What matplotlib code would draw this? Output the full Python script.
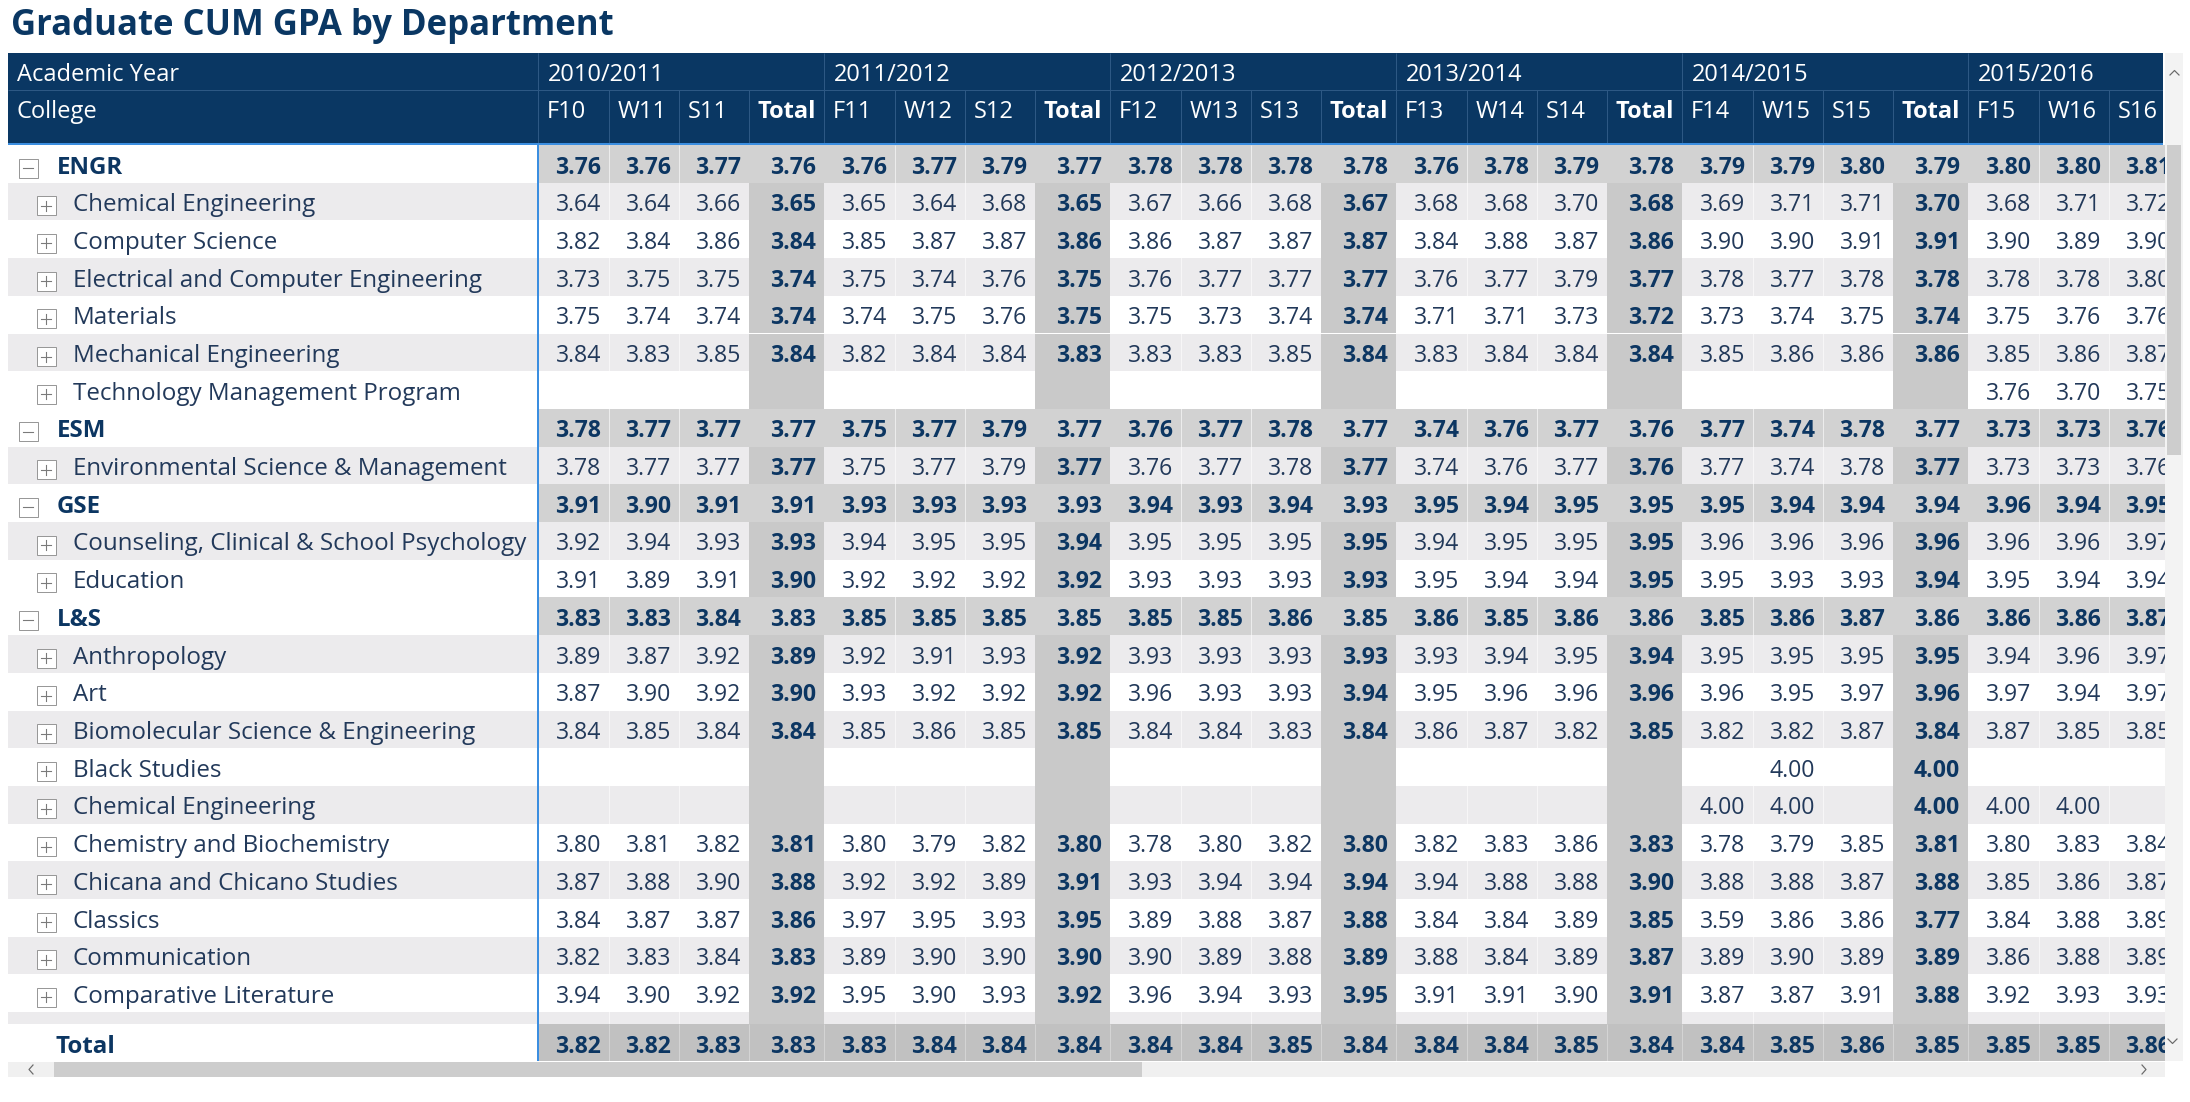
import matplotlib
matplotlib.use("Agg")
import matplotlib.pyplot as plt
from matplotlib.patches import Rectangle
from matplotlib.transforms import Bbox

N = None

title = "Graduate CUM GPA by Department"
header_row1 = "Academic Year"
header_row2 = "College"
years = ["2010/2011", "2011/2012", "2012/2013", "2013/2014", "2014/2015", "2015/2016"]
terms = [["F10", "W11", "S11", "Total"], ["F11", "W12", "S12", "Total"],
         ["F12", "W13", "S13", "Total"], ["F13", "W14", "S14", "Total"],
         ["F14", "W15", "S15", "Total"], ["F15", "W16", "S16", "Total"]]

row_labels = ["ENGR", "Chemical Engineering", "Computer Science",
              "Electrical and Computer Engineering", "Materials",
              "Mechanical Engineering", "Technology Management Program",
              "ESM", "Environmental Science & Management",
              "GSE", "Counseling, Clinical & School Psychology", "Education",
              "L&S", "Anthropology", "Art", "Biomolecular Science & Engineering",
              "Black Studies", "Chemical Engineering", "Chemistry and Biochemistry",
              "Chicana and Chicano Studies", "Classics", "Communication",
              "Comparative Literature", "Computer Science"]
row_is_college = [True, False, False, False, False, False, False,
                  True, False,
                  True, False, False,
                  True, False, False, False, False, False, False, False, False, False, False, False]

# (F, W, S, Total) per row
gpa_2010_2011 = [
    (3.76, 3.76, 3.77, 3.76), (3.64, 3.64, 3.66, 3.65), (3.82, 3.84, 3.86, 3.84),
    (3.73, 3.75, 3.75, 3.74), (3.75, 3.74, 3.74, 3.74), (3.84, 3.83, 3.85, 3.84),
    (N, N, N, N),
    (3.78, 3.77, 3.77, 3.77), (3.78, 3.77, 3.77, 3.77),
    (3.91, 3.90, 3.91, 3.91), (3.92, 3.94, 3.93, 3.93), (3.91, 3.89, 3.91, 3.90),
    (3.83, 3.83, 3.84, 3.83), (3.89, 3.87, 3.92, 3.89), (3.87, 3.90, 3.92, 3.90),
    (3.84, 3.85, 3.84, 3.84), (N, N, N, N), (N, N, N, N),
    (3.80, 3.81, 3.82, 3.81), (3.87, 3.88, 3.90, 3.88), (3.84, 3.87, 3.87, 3.86),
    (3.82, 3.83, 3.84, 3.83), (3.94, 3.90, 3.92, 3.92), (N, N, N, N)]
gpa_2011_2012 = [
    (3.76, 3.77, 3.79, 3.77), (3.65, 3.64, 3.68, 3.65), (3.85, 3.87, 3.87, 3.86),
    (3.75, 3.74, 3.76, 3.75), (3.74, 3.75, 3.76, 3.75), (3.82, 3.84, 3.84, 3.83),
    (N, N, N, N),
    (3.75, 3.77, 3.79, 3.77), (3.75, 3.77, 3.79, 3.77),
    (3.93, 3.93, 3.93, 3.93), (3.94, 3.95, 3.95, 3.94), (3.92, 3.92, 3.92, 3.92),
    (3.85, 3.85, 3.85, 3.85), (3.92, 3.91, 3.93, 3.92), (3.93, 3.92, 3.92, 3.92),
    (3.85, 3.86, 3.85, 3.85), (N, N, N, N), (N, N, N, N),
    (3.80, 3.79, 3.82, 3.80), (3.92, 3.92, 3.89, 3.91), (3.97, 3.95, 3.93, 3.95),
    (3.89, 3.90, 3.90, 3.90), (3.95, 3.90, 3.93, 3.92), (N, N, N, N)]
gpa_2012_2013 = [
    (3.78, 3.78, 3.78, 3.78), (3.67, 3.66, 3.68, 3.67), (3.86, 3.87, 3.87, 3.87),
    (3.76, 3.77, 3.77, 3.77), (3.75, 3.73, 3.74, 3.74), (3.83, 3.83, 3.85, 3.84),
    (N, N, N, N),
    (3.76, 3.77, 3.78, 3.77), (3.76, 3.77, 3.78, 3.77),
    (3.94, 3.93, 3.94, 3.93), (3.95, 3.95, 3.95, 3.95), (3.93, 3.93, 3.93, 3.93),
    (3.85, 3.85, 3.86, 3.85), (3.93, 3.93, 3.93, 3.93), (3.96, 3.93, 3.93, 3.94),
    (3.84, 3.84, 3.83, 3.84), (N, N, N, N), (N, N, N, N),
    (3.78, 3.80, 3.82, 3.80), (3.93, 3.94, 3.94, 3.94), (3.89, 3.88, 3.87, 3.88),
    (3.90, 3.89, 3.88, 3.89), (3.96, 3.94, 3.93, 3.95), (N, N, N, N)]
gpa_2013_2014 = [
    (3.76, 3.78, 3.79, 3.78), (3.68, 3.68, 3.70, 3.68), (3.84, 3.88, 3.87, 3.86),
    (3.76, 3.77, 3.79, 3.77), (3.71, 3.71, 3.73, 3.72), (3.83, 3.84, 3.84, 3.84),
    (N, N, N, N),
    (3.74, 3.76, 3.77, 3.76), (3.74, 3.76, 3.77, 3.76),
    (3.95, 3.94, 3.95, 3.95), (3.94, 3.95, 3.95, 3.95), (3.95, 3.94, 3.94, 3.95),
    (3.86, 3.85, 3.86, 3.86), (3.93, 3.94, 3.95, 3.94), (3.95, 3.96, 3.96, 3.96),
    (3.86, 3.87, 3.82, 3.85), (N, N, N, N), (N, N, N, N),
    (3.82, 3.83, 3.86, 3.83), (3.94, 3.88, 3.88, 3.90), (3.84, 3.84, 3.89, 3.85),
    (3.88, 3.84, 3.89, 3.87), (3.91, 3.91, 3.90, 3.91), (N, N, N, N)]
gpa_2014_2015 = [
    (3.79, 3.79, 3.80, 3.79), (3.69, 3.71, 3.71, 3.70), (3.90, 3.90, 3.91, 3.91),
    (3.78, 3.77, 3.78, 3.78), (3.73, 3.74, 3.75, 3.74), (3.85, 3.86, 3.86, 3.86),
    (N, N, N, N),
    (3.77, 3.74, 3.78, 3.77), (3.77, 3.74, 3.78, 3.77),
    (3.95, 3.94, 3.94, 3.94), (3.96, 3.96, 3.96, 3.96), (3.95, 3.93, 3.93, 3.94),
    (3.85, 3.86, 3.87, 3.86), (3.95, 3.95, 3.95, 3.95), (3.96, 3.95, 3.97, 3.96),
    (3.82, 3.82, 3.87, 3.84), (N, 4.00, N, 4.00), (4.00, 4.00, N, 4.00),
    (3.78, 3.79, 3.85, 3.81), (3.88, 3.88, 3.87, 3.88), (3.59, 3.86, 3.86, 3.77),
    (3.89, 3.90, 3.89, 3.89), (3.87, 3.87, 3.91, 3.88), (N, N, N, N)]
gpa_2015_2016 = [
    (3.80, 3.80, 3.81, N), (3.68, 3.71, 3.72, N), (3.90, 3.89, 3.90, N),
    (3.78, 3.78, 3.80, N), (3.75, 3.76, 3.76, N), (3.85, 3.86, 3.87, N),
    (3.76, 3.70, 3.75, N),
    (3.73, 3.73, 3.76, N), (3.73, 3.73, 3.76, N),
    (3.96, 3.94, 3.95, N), (3.96, 3.96, 3.97, N), (3.95, 3.94, 3.94, N),
    (3.86, 3.86, 3.87, N), (3.94, 3.96, 3.97, N), (3.97, 3.94, 3.97, N),
    (3.87, 3.85, 3.85, N), (N, N, N, N), (4.00, 4.00, N, N),
    (3.80, 3.83, 3.84, N), (3.85, 3.86, 3.87, N), (3.84, 3.88, 3.89, N),
    (3.86, 3.88, 3.89, N), (3.92, 3.93, 3.93, N), (N, N, N, N)]
grand_total_label = "Total"
grand_total = [(3.82, 3.82, 3.83, 3.83), (3.83, 3.84, 3.84, 3.84),
               (3.84, 3.84, 3.85, 3.84), (3.84, 3.84, 3.85, 3.84),
               (3.84, 3.85, 3.86, 3.85), (3.85, 3.85, 3.86, N)]

year_values = [gpa_2010_2011, gpa_2011_2012, gpa_2012_2013,
               gpa_2013_2014, gpa_2014_2015, gpa_2015_2016]

# ---------------------------------------------------------------- style
plt.rcParams['font.family'] = ['Open Sans', 'DejaVu Sans']
W, H, DPI = 2190, 1102, 100
PT = 72.0 / DPI  # points per pixel

NAVY = '#0a3763'
HLINE = '#2d5884'
BLUE = '#3b8ee0'
TXT = '#22395a'
BTXT = '#0c3662'
BAND = '#ecebed'
SUBC = '#d2d2d2'
TOTC = '#c9c9c9'
GTC = '#c1c1c1'
FS_VAL = 16.6
FS_LAB = 17.4
FS_HEAD = 17.0

X0, XL, XR, XH = 8, 538, 2165, 2163
HY0, HY1, HY2 = 53, 90, 143
BODY0, ROWH, GT0, GT1 = 145, 37.7, 1024, 1061
GROUPW = 286
SUBW = [71, 70, 70, 75]

fig = plt.figure(figsize=(W / DPI, H / DPI), dpi=DPI)
ax = fig.add_axes([0, 0, 1, 1])
ax.set_xlim(0, W)
ax.set_ylim(H, 0)
ax.axis('off')


def disp_box(x0, y0, x1, y1):
    pts = ax.transData.transform([[x0, y0], [x1, y1]])
    return Bbox.from_extents(min(pts[0][0], pts[1][0]), min(pts[0][1], pts[1][1]),
                             max(pts[0][0], pts[1][0]), max(pts[0][1], pts[1][1]))


def col_bounds(g, k):
    left = XL + g * GROUPW + sum(SUBW[:k])
    return left, left + SUBW[k]


def rect(x, y, w, h, color, clip=None, z=1, ec='none', lw=0):
    r = Rectangle((x, y), w, h, facecolor=color, edgecolor=ec, linewidth=lw,
                  antialiased=(lw > 0), zorder=z)
    ax.add_patch(r)
    if clip is not None:
        r.set_clip_box(clip)
    return r


def text(x, y, s, size=FS_VAL, bold=False, color=TXT, ha='left', clip=None, z=5):
    t = ax.text(x, y, s, fontsize=size, fontweight='bold' if bold else 'normal',
                color=color, ha=ha, va='baseline', zorder=z)
    if clip is not None:
        t.set_clip_box(clip)
        t.set_clip_on(True)
    return t


def vline(x, y0, y1, color, lw_px, clip=None, z=3, alpha=1.0):
    ln, = ax.plot([x, x], [y0, y1], color=color, lw=lw_px * PT, zorder=z,
                  solid_capstyle='butt', alpha=alpha)
    if clip is not None:
        ln.set_clip_box(clip)
    return ln


def hline(y, x0, x1, color, lw_px, clip=None, z=3):
    ln, = ax.plot([x0, x1], [y, y], color=color, lw=lw_px * PT, zorder=z,
                  solid_capstyle='butt')
    if clip is not None:
        ln.set_clip_box(clip)
    return ln


def expander(cx, cy, minus):
    s = 19
    rect(cx - s / 2, cy - s / 2, s, s, 'white', clip=left_clip, z=4, ec='#989898', lw=1.0 * PT)
    ln, = ax.plot([cx - 5, cx + 5], [cy, cy], color='#7a7a7a', lw=1.1 * PT, zorder=5)
    ln.set_clip_box(left_clip)
    if not minus:
        ln, = ax.plot([cx, cx], [cy - 5, cy + 5], color='#7a7a7a', lw=1.1 * PT, zorder=5)
        ln.set_clip_box(left_clip)


# clip regions (display coordinates)
data_clip = disp_box(XL, BODY0, XR, GT0)
left_clip = disp_box(X0, BODY0, XL, GT0)
gt_clip = disp_box(XL, GT0, XR, GT1)
head_clip = disp_box(X0, HY0, XH, HY2 + 3)

# ---------------------------------------------------------------- title
text(11, 35, title, size=25, bold=True, color=NAVY)

# ---------------------------------------------------------------- header
rect(X0, HY0, XH - X0, HY2 - HY0, NAVY, z=1)
hline(HY1, X0, XH, HLINE, 1, clip=head_clip)
vline(XL, HY0, HY2, HLINE, 1, clip=head_clip)
text(17, 81, header_row1, size=FS_HEAD, color='white')
text(17, 118, header_row2, size=FS_HEAD, color='white')
for g, yr in enumerate(years):
    gl = XL + g * GROUPW
    vline(gl, HY0, HY2, HLINE, 1, clip=head_clip)
    text(gl + 10, 81, yr, size=FS_HEAD, color='white', clip=head_clip)
    for k, term in enumerate(terms[g]):
        l, r = col_bounds(g, k)
        if l + 9 >= XH - 40:
            continue
        if k > 0:
            vline(l, HY1, HY2, HLINE, 1, clip=head_clip)
        text(l + 9, 118, term, size=FS_HEAD, bold=(k == 3), color='white', clip=head_clip)

# ---------------------------------------------------------------- body
child = -1
for i, label in enumerate(row_labels):
    top = BODY0 + i * ROWH
    college = row_is_college[i]
    if college:
        child = -1
    else:
        child += 1
    band = (not college) and child % 2 == 0
    rect(X0, top, XL - X0, ROWH, BAND if band else 'white', clip=left_clip)
    base = top + 28.5
    if college:
        expander(28, top + 23, True)
        text(57, base, label, size=FS_LAB, bold=True, color=BTXT, clip=left_clip)
    else:
        expander(46, top + 23, False)
        text(73, base, label, size=FS_LAB, color=TXT, clip=left_clip)
    for g in range(len(years)):
        vals = year_values[g][i]
        for k in range(4):
            l, r = col_bounds(g, k)
            if l >= XR:
                continue
            if college:
                c = SUBC
            elif k == 3:
                c = TOTC
            else:
                c = BAND if band else 'white'
            rect(l, top, r - l, ROWH, c, clip=data_clip)
            v = vals[k]
            if v is not None:
                bold = college or k == 3
                text(r - 8, base, f"{v:.2f}", bold=bold, color=BTXT if bold else TXT,
                     ha='right', clip=data_clip)

# faint cell separators
for g in range(len(years)):
    for k in (1, 2):
        l, r = col_bounds(g, k)
        vline(l, BODY0, GT0, 'white', 1, clip=data_clip, alpha=0.6)

# ---------------------------------------------------------------- grand total row
rect(X0, GT0, XL - X0, GT1 - GT0, 'white')
text(56, GT0 + 28.7, grand_total_label, size=FS_LAB, bold=True, color=BTXT)
for g in range(len(years)):
    for k in range(4):
        l, r = col_bounds(g, k)
        if l >= XR:
            continue
        rect(l, GT0, r - l, GT1 - GT0, GTC, clip=gt_clip)
        if k > 0 or g > 0:
            vline(l, GT0, GT1, '#d4d4d4', 1, clip=gt_clip, z=2)
        v = grand_total[g][k]
        if v is not None:
            text(r - 8, GT0 + 28.7, f"{v:.2f}", bold=True, color=BTXT, ha='right', clip=gt_clip)

# accent lines
hline(HY2 + 1, X0, XH, BLUE, 2, z=6)
vline(XL, HY2, GT1, BLUE, 2, z=6)

# ---------------------------------------------------------------- scrollbars
rect(X0, 1062, XR - X0, 15, '#f0f0f0', z=1)
rect(54, 1062, 1088, 15, '#cdcdcd', z=2)
rect(XR, HY0, 18, GT1 - HY0, '#f3f3f3', z=1)
rect(2167, BODY0, 14, 310, '#cdcdcd', z=2)
ac = '#6a6a6a'
ax.plot([33, 29, 33], [1065, 1069.5, 1074], color=ac, lw=1.2 * PT, zorder=7)
ax.plot([2142, 2146, 2142], [1065, 1069.5, 1074], color=ac, lw=1.2 * PT, zorder=7)
ax.plot([2170, 2174.5, 2179], [75, 70.5, 75], color=ac, lw=1.2 * PT, zorder=7)
ax.plot([2168, 2172.5, 2177], [1039, 1043.5, 1039], color=ac, lw=1.2 * PT, zorder=7)

fig.savefig("out.png", dpi=DPI, facecolor='white')
